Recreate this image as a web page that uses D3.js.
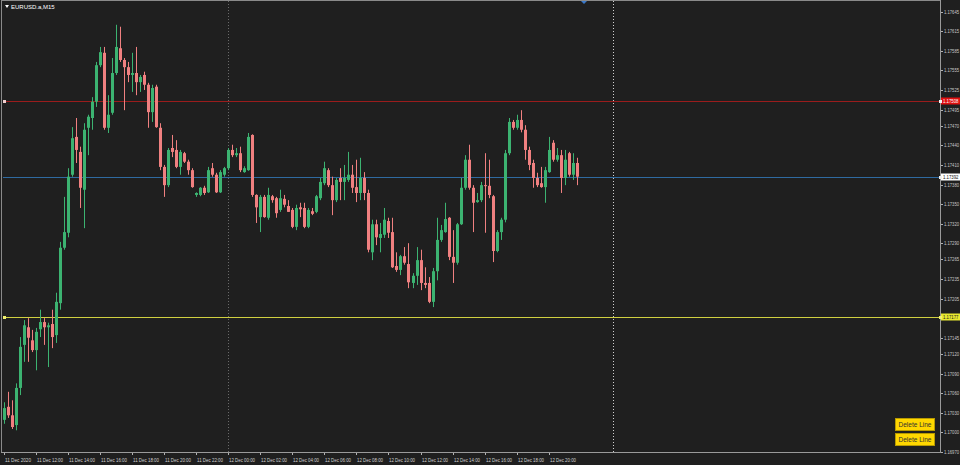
<!DOCTYPE html>
<html><head><meta charset="utf-8">
<script src="https://cdn.jsdelivr.net/npm/d3@7"></script>
<style>html,body{margin:0;padding:0;background:#1f1f1f;overflow:hidden}</style>
</head><body><svg id="c" width="960" height="465"></svg>
<script>
const symbolTitle = "EURUSD.a,M15";
const timeLabels = ["11 Dec 2020","11 Dec 12:00","11 Dec 14:00","11 Dec 16:00","11 Dec 18:00","11 Dec 20:00","11 Dec 22:00","12 Dec 00:00","12 Dec 02:00","12 Dec 04:00","12 Dec 06:00","12 Dec 08:00","12 Dec 10:00","12 Dec 12:00","12 Dec 14:00","12 Dec 16:00","12 Dec 18:00","12 Dec 20:00"];
const timeLabelIndex = [0,8,16,24,32,40,48,56,64,72,80,88,96,104,112,120,128,136];
const priceTicks = [1.17645,1.17615,1.17585,1.17555,1.17525,1.17495,1.17470,1.17440,1.17410,1.17380,1.17350,1.17320,1.17290,1.17265,1.17235,1.17205,1.17175,1.17145,1.17120,1.17090,1.17060,1.17030,1.17000,1.16970];
const separatorIndex = [56,152];
const levelPrices = [1.17508,1.17392,1.17177];
const buttonLabels = ["Delete Line","Delete Line"];

const openP = [1.17019,1.17039,1.17026,1.17011,1.17068,1.17134,1.17161,1.17141,1.17126,1.17158,1.17169,1.17161,1.17166,1.17149,1.17198,1.17283,1.17306,1.17395,1.17453,1.17430,1.17372,1.17467,1.17482,1.17507,1.17563,1.17582,1.17467,1.17490,1.17551,1.17589,1.17571,1.17560,1.17548,1.17551,1.17537,1.17548,1.17533,1.17491,1.17530,1.17467,1.17407,1.17379,1.17436,1.17433,1.17407,1.17428,1.17415,1.17402,1.17364,1.17364,1.17375,1.17368,1.17405,1.17395,1.17368,1.17395,1.17405,1.17433,1.17425,1.17428,1.17399,1.17402,1.17456,1.17364,1.17330,1.17361,1.17329,1.17362,1.17359,1.17341,1.17358,1.17347,1.17341,1.17315,1.17345,1.17344,1.17315,1.17339,1.17338,1.17359,1.17382,1.17402,1.17379,1.17356,1.17390,1.17384,1.17387,1.17395,1.17376,1.17367,1.17390,1.17367,1.17276,1.17319,1.17298,1.17303,1.17324,1.17307,1.17255,1.17249,1.17270,1.17258,1.17229,1.17240,1.17264,1.17229,1.17229,1.17200,1.17247,1.17295,1.17307,1.17329,1.17269,1.17260,1.17319,1.17375,1.17418,1.17375,1.17353,1.17356,1.17379,1.17378,1.17362,1.17278,1.17307,1.17326,1.17428,1.17476,1.17467,1.17479,1.17464,1.17433,1.17413,1.17390,1.17382,1.17376,1.17399,1.17444,1.17418,1.17425,1.17390,1.17428,1.17395,1.17413];
const highP = [1.17046,1.17062,1.17049,1.17075,1.17146,1.17172,1.17175,1.17157,1.17160,1.17188,1.17175,1.17168,1.17188,1.17214,1.17292,1.17361,1.17405,1.17468,1.17482,1.17438,1.17474,1.17487,1.17514,1.17568,1.17591,1.17591,1.17517,1.17574,1.17625,1.17622,1.17574,1.17568,1.17582,1.17591,1.17548,1.17553,1.17536,1.17533,1.17533,1.17474,1.17410,1.17436,1.17456,1.17448,1.17433,1.17430,1.17418,1.17405,1.17368,1.17376,1.17378,1.17407,1.17413,1.17398,1.17402,1.17407,1.17436,1.17441,1.17436,1.17438,1.17408,1.17459,1.17457,1.17365,1.17364,1.17364,1.17375,1.17364,1.17361,1.17372,1.17364,1.17356,1.17344,1.17349,1.17352,1.17352,1.17344,1.17344,1.17364,1.17390,1.17415,1.17405,1.17392,1.17390,1.17405,1.17410,1.17430,1.17410,1.17418,1.17421,1.17399,1.17372,1.17326,1.17326,1.17321,1.17344,1.17329,1.17329,1.17276,1.17272,1.17284,1.17290,1.17244,1.17284,1.17280,1.17253,1.17238,1.17252,1.17329,1.17318,1.17352,1.17330,1.17310,1.17321,1.17390,1.17425,1.17441,1.17379,1.17367,1.17384,1.17428,1.17418,1.17364,1.17310,1.17329,1.17433,1.17482,1.17479,1.17487,1.17494,1.17471,1.17438,1.17418,1.17398,1.17407,1.17407,1.17453,1.17448,1.17436,1.17433,1.17433,1.17430,1.17428,1.17421];
const lowP = [1.17013,1.17022,1.17005,1.17003,1.17057,1.17108,1.17108,1.17123,1.17095,1.17146,1.17134,1.17100,1.17129,1.17137,1.17188,1.17280,1.17299,1.17392,1.17413,1.17344,1.17313,1.17425,1.17464,1.17499,1.17560,1.17464,1.17459,1.17487,1.17548,1.17568,1.17494,1.17537,1.17522,1.17517,1.17522,1.17525,1.17467,1.17476,1.17467,1.17402,1.17361,1.17376,1.17422,1.17405,1.17395,1.17413,1.17395,1.17375,1.17361,1.17362,1.17364,1.17367,1.17392,1.17367,1.17367,1.17392,1.17402,1.17422,1.17422,1.17399,1.17398,1.17401,1.17361,1.17321,1.17307,1.17329,1.17326,1.17352,1.17329,1.17338,1.17345,1.17338,1.17313,1.17310,1.17330,1.17313,1.17313,1.17333,1.17336,1.17356,1.17379,1.17376,1.17333,1.17353,1.17356,1.17356,1.17384,1.17367,1.17353,1.17356,1.17356,1.17276,1.17264,1.17287,1.17276,1.17298,1.17298,1.17252,1.17246,1.17241,1.17257,1.17221,1.17221,1.17226,1.17218,1.17221,1.17198,1.17192,1.17233,1.17292,1.17306,1.17264,1.17229,1.17257,1.17318,1.17372,1.17372,1.17307,1.17352,1.17353,1.17306,1.17359,1.17261,1.17276,1.17295,1.17322,1.17425,1.17464,1.17464,1.17460,1.17418,1.17402,1.17375,1.17376,1.17375,1.17352,1.17398,1.17415,1.17415,1.17367,1.17379,1.17392,1.17387,1.17379];
const closeP = [1.17037,1.17026,1.17008,1.17068,1.17131,1.17164,1.17145,1.17126,1.17154,1.17169,1.17161,1.17164,1.17146,1.17200,1.17283,1.17307,1.17392,1.17451,1.17433,1.17375,1.17464,1.17484,1.17507,1.17563,1.17583,1.17467,1.17487,1.17551,1.17591,1.17571,1.17560,1.17548,1.17551,1.17537,1.17545,1.17533,1.17491,1.17528,1.17468,1.17407,1.17379,1.17433,1.17430,1.17407,1.17430,1.17415,1.17402,1.17376,1.17367,1.17375,1.17367,1.17402,1.17395,1.17368,1.17399,1.17405,1.17433,1.17425,1.17428,1.17402,1.17405,1.17453,1.17364,1.17345,1.17361,1.17330,1.17364,1.17356,1.17336,1.17359,1.17349,1.17338,1.17315,1.17344,1.17342,1.17315,1.17341,1.17335,1.17362,1.17384,1.17405,1.17379,1.17356,1.17387,1.17384,1.17390,1.17395,1.17375,1.17367,1.17390,1.17367,1.17280,1.17319,1.17299,1.17304,1.17326,1.17306,1.17253,1.17249,1.17270,1.17260,1.17230,1.17240,1.17264,1.17229,1.17226,1.17200,1.17247,1.17295,1.17310,1.17327,1.17269,1.17260,1.17319,1.17375,1.17418,1.17375,1.17352,1.17356,1.17379,1.17378,1.17364,1.17278,1.17307,1.17326,1.17428,1.17476,1.17467,1.17479,1.17464,1.17433,1.17410,1.17390,1.17379,1.17376,1.17402,1.17433,1.17418,1.17425,1.17390,1.17418,1.17395,1.17413,1.17392];

const W = 960, H = 465;
const plotL = 2, plotR = 940, plotT = 1, plotB = 452;
const svg = d3.select("#c");
svg.append("rect").attr("width",W).attr("height",H).attr("fill","#1f1f1f");

const x = d3.scaleLinear().domain([0,152]).range([3.5, 613]);
const y = d3.scaleLinear().domain([1.16970, 1.17663]).range([451.8, 0]);
const font = "Liberation Sans, Arial, sans-serif";

// frame
svg.append("line").attr("x1",1.5).attr("x2",1.5).attr("y1",1).attr("y2",plotB).attr("stroke","#8a8a8a");
svg.append("line").attr("x1",1).attr("x2",plotR).attr("y1",0.5).attr("y2",0.5).attr("stroke","#8a8a8a");
svg.append("line").attr("x1",plotR+0.5).attr("x2",plotR+0.5).attr("y1",0).attr("y2",plotB+1).attr("stroke","#9a9a9a");
svg.append("line").attr("x1",1).attr("x2",plotR+1).attr("y1",plotB+0.5).attr("y2",plotB+0.5).attr("stroke","#9a9a9a");

// period separators
svg.selectAll(".sep").data(separatorIndex).enter().append("line")
  .attr("x1",d=>Math.round(x(d))+0.5).attr("x2",d=>Math.round(x(d))+0.5)
  .attr("y1",1).attr("y2",plotB)
  .attr("stroke",(d,i)=> i===0 ? "#6a6a6a" : "#d0d0d0")
  .attr("stroke-dasharray","1,2");

// horizontal level lines
const levelLine = ["#9a1c1c","#2f6aa0","#d0d040"];
const levelBox = ["#e01010","#ffffff","#e8e830"];
const levelText = ["#ffffff","#101010","#202020"];
svg.selectAll(".lvl").data(levelPrices).enter().append("line")
  .attr("x1",plotL+1).attr("x2",plotR).attr("y1",d=>Math.round(y(d))+0.5).attr("y2",d=>Math.round(y(d))+0.5)
  .attr("stroke",(d,i)=>levelLine[i]);
svg.selectAll(".lvm").data([levelPrices[0], levelPrices[2]]).enter().append("rect")
  .attr("x",3).attr("y",d=>Math.round(y(d))-1).attr("width",3).attr("height",3)
  .attr("fill",(d,i)=> i===1 ? "#f0f070" : "#f0d0d0");

// candles
const n = openP.length;
const idx = d3.range(n);
const up = "#3cb371", dn = "#f08080";
const col = i => closeP[i] >= openP[i] ? up : dn;
svg.selectAll(".wick").data(idx).enter().append("line")
  .attr("x1",i=>Math.round(x(i))+0.5).attr("x2",i=>Math.round(x(i))+0.5)
  .attr("y1",i=>y(highP[i])).attr("y2",i=>y(lowP[i]))
  .attr("stroke",col).attr("stroke-width",1);
svg.selectAll(".body").data(idx).enter().append("rect")
  .attr("x",i=>Math.round(x(i))-1).attr("width",3)
  .attr("y",i=>y(Math.max(openP[i],closeP[i])))
  .attr("height",i=>Math.max(1, y(Math.min(openP[i],closeP[i])) - y(Math.max(openP[i],closeP[i]))))
  .attr("fill",col);

// price axis
const pa = svg.append("g");
pa.selectAll("line").data(priceTicks).enter().append("line")
  .attr("x1",plotR+1).attr("x2",plotR+3).attr("y1",d=>Math.round(y(d))+0.5).attr("y2",d=>Math.round(y(d))+0.5)
  .attr("stroke","#b0b0b0");
pa.selectAll("text").data(priceTicks).enter().append("text")
  .attr("x",plotR+4).attr("y",d=>y(d)+2).attr("fill","#c8c8c8")
  .attr("font-family",font).attr("font-size",5)
  .attr("textLength",15).attr("lengthAdjust","spacingAndGlyphs").text(d=>d.toFixed(5));

// level labels on axis
const lg = svg.selectAll(".lvlab").data(levelPrices).enter().append("g");
lg.append("rect").attr("x",plotR+1).attr("y",d=>Math.round(y(d))-3.5).attr("width",W-plotR-1).attr("height",7)
  .attr("fill",(d,i)=>levelBox[i]);
lg.append("rect").attr("x",plotR-1).attr("y",d=>Math.round(y(d))-1).attr("width",3).attr("height",3)
  .attr("fill",(d,i)=> i===2 ? "#f0f070" : "#f0f0f0");
lg.append("text").attr("x",plotR+3).attr("y",d=>Math.round(y(d))+2.2).attr("fill",(d,i)=>levelText[i])
  .attr("font-family",font).attr("font-size",5)
  .attr("textLength",15.5).attr("lengthAdjust","spacingAndGlyphs").text(d=>d.toFixed(5));

// time axis
const ta = svg.append("g");
ta.selectAll("line").data(timeLabelIndex).enter().append("line")
  .attr("x1",d=>Math.round(x(d))+0.5).attr("x2",d=>Math.round(x(d))+0.5).attr("y1",plotB+1).attr("y2",plotB+3)
  .attr("stroke","#b0b0b0");
ta.selectAll("text").data(timeLabelIndex).enter().append("text")
  .attr("x",d=>Math.round(x(d))+1).attr("y",plotB+9.5).attr("fill","#d0d0d0")
  .attr("font-family",font).attr("font-size",5.5)
  .attr("textLength",26).attr("lengthAdjust","spacingAndGlyphs").text((d,i)=>timeLabels[i]);

// title
svg.append("path").attr("d","M5,5 L9,5 L7,8 Z").attr("fill","#ffffff");
svg.append("text").attr("x",11).attr("y",8.5).attr("fill","#ffffff").attr("font-family",font)
  .attr("font-size",6).text(symbolTitle);

// shift marker
const sx = Math.round(x(144.8));
svg.append("path").attr("d",`M${sx-3},1 L${sx+3},1 L${sx},4 Z`).attr("fill","#3a78c8");

// buttons
const bg = svg.selectAll(".btn").data(buttonLabels).enter().append("g");
bg.append("rect").attr("x",895.5).attr("y",(d,i)=>418.5+i*15).attr("width",39).attr("height",12)
  .attr("fill","#ffd700").attr("stroke","#b89a00");
bg.append("text").attr("x",915).attr("y",(d,i)=>426.5+i*15).attr("text-anchor","middle")
  .attr("fill","#303030").attr("font-family",font).attr("font-size",6.5).text(d=>d);
</script></body></html>
